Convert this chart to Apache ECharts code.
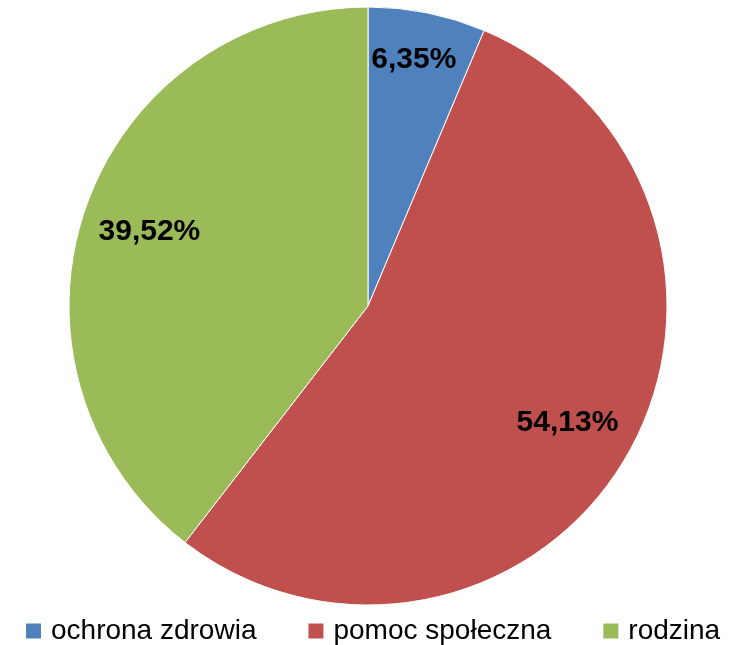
<!DOCTYPE html>
<html>
<head>
<meta charset="utf-8">
<script src="https://cdn.jsdelivr.net/npm/echarts@6/dist/echarts.min.js"></script>
<style>
  html, body { margin: 0; padding: 0; background: #fff; }
  #main { width: 733px; height: 645px; }
</style>
</head>
<body>
<div id="main"></div>
<script>
var myChart = echarts.init(document.getElementById('main'));

// dane z wykresu
var categories = ['ochrona zdrowia', 'pomoc społeczna', 'rodzina'];
var shares = [6.35, 54.13, 39.52];
var colors = ['#4F81BD', '#C0504D', '#9BBB59'];

var pieData = [];
var labelData = [];
for (var i = 0; i < categories.length; i++) {
  pieData.push({
    name: categories[i],
    value: shares[i],
    itemStyle: {color: colors[i]}
  });
  labelData.push({
    name: categories[i],
    value: shares[i]
  });
}

var option = {
  backgroundColor: '#fff',
  animation: false,
  legend: {
    left: 19,
    top: 612,
    itemWidth: 17,
    itemHeight: 17,
    itemGap: 50,
    icon: 'rect',
    data: categories,
    textStyle: {
      fontFamily: 'Liberation Sans',
      fontSize: 28,
      color: '#000',
      padding: [4, 0, 0, 4]
    }
  },
  series: [
    {
      name: 'wydatki',
      type: 'pie',
      center: [368, 306],
      radius: [0, 299],
      startAngle: 90,
      clockwise: true,
      silent: true,
      itemStyle: {
        borderColor: '#fff',
        borderWidth: 1
      },
      label: {show: false},
      labelLine: {show: false},
      data: pieData
    },
    {
      // niewidoczna seria tylko dla etykiet
      name: 'etykiety',
      type: 'pie',
      center: [368, 306],
      radius: [0, 456],
      startAngle: 90,
      clockwise: true,
      silent: true,
      z: 5,
      itemStyle: {color: 'rgba(0,0,0,0)', borderWidth: 0},
      label: {
        show: true,
        position: 'inside',
        fontFamily: 'Liberation Sans',
        fontWeight: 'bold',
        fontSize: 30,
        color: '#000',
        formatter: function (p) {
          return p.value.toFixed(2).replace('.', ',') + '%';
        }
      },
      // mały wycinek - etykieta bliżej krawędzi
      labelLayout: function (params) {
        return params.dataIndex === 0 ? {dy: -20} : {};
      },
      labelLine: {show: false},
      data: labelData
    }
  ]
};

myChart.setOption(option);
</script>
</body>
</html>
